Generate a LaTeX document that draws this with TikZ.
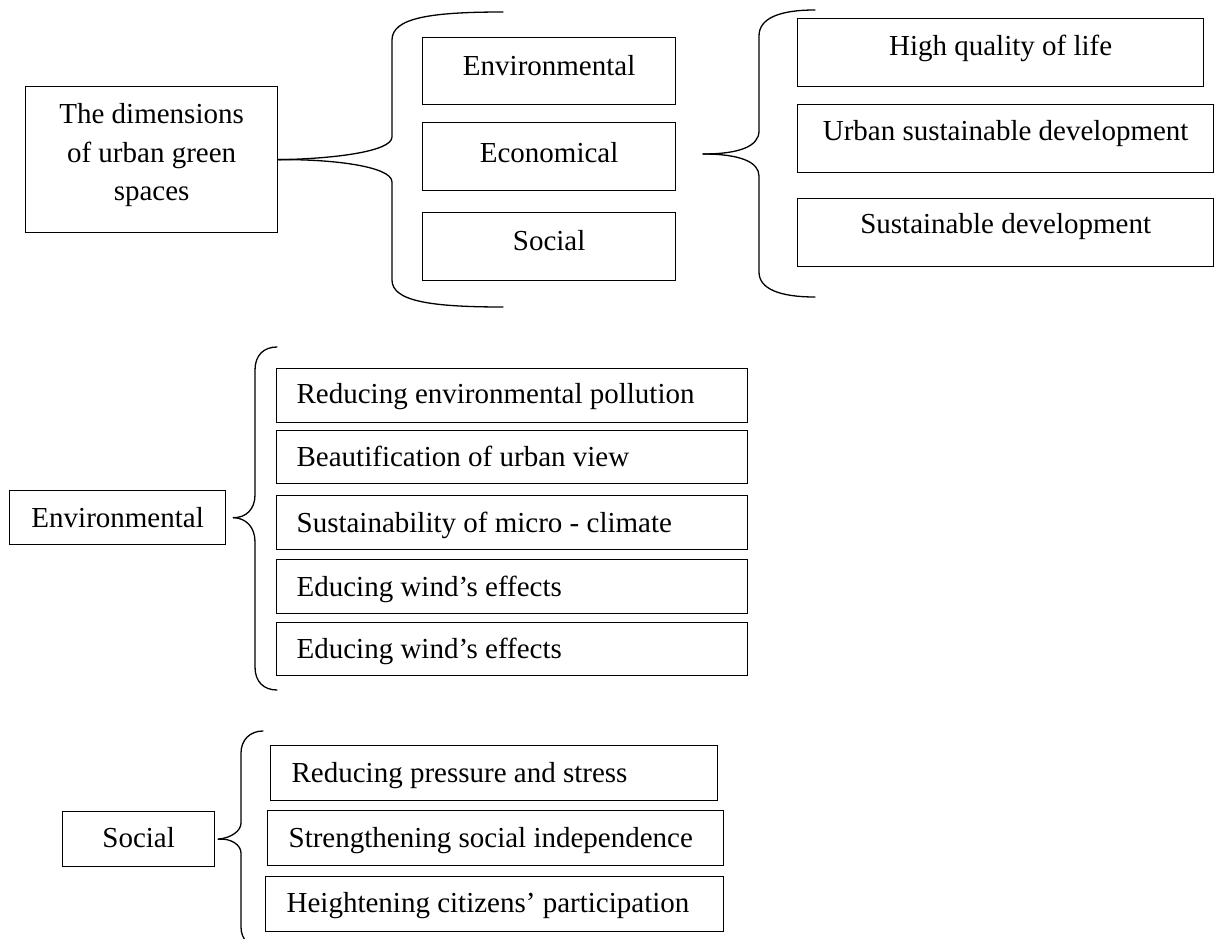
\documentclass[tikz,border=0pt]{standalone}
\usepackage{fontspec}
\setmainfont{Liberation Serif}
\begin{document}
\begin{tikzpicture}[x=1pt,y=-1pt,
  every node/.style={font=\fontsize{29pt}{38.5pt}\selectfont},
  cbox/.style={draw, line width=1.3pt, inner sep=0pt, anchor=north west},
  lbox/.style={cbox, align=flush left, inner xsep=#1},
  brace/.style={draw, line width=1.3pt, line cap=round, line join=round}]
\path[use as bounding box, clip] (0,0) rectangle (1216,939);

% ---------- overview: dimensions and outcomes ----------
\node[cbox, text width=252pt, align=flush center, text height=37pt, text depth=109pt] (main) at (25,86)
  {The dimensions\\of urban green\\spaces};

\node[cbox, minimum width=253pt, text height=38pt, text depth=29pt] (envA) at (422,37) {Environmental};
\node[cbox, minimum width=253pt, text height=39.5pt, text depth=28.5pt] (econA) at (422,122) {Economical};
\node[cbox, minimum width=253pt, text height=38pt, text depth=30pt] (socA) at (422,212) {Social};

\node[cbox, minimum width=406pt, text height=37pt, text depth=31pt] (r1) at (797,18) {High quality of life};
\node[cbox, minimum width=416pt, text height=36pt, text depth=32pt] (r2) at (797,104) {Urban sustainable development};
\node[cbox, minimum width=416pt, text height=35pt, text depth=33pt] (r3) at (797,198) {Sustainable development};

% brace from the main box to the three dimensions
\path[brace] (main.east) .. controls (330,159) and (392,152) .. (392,137) -- (392,40)
  .. controls (392,18) and (430,12) .. (503,12);
\path[brace] (main.east) .. controls (330,159) and (392,166) .. (392,182) -- (392,280)
  .. controls (392,301) and (430,307) .. (503,307);

% brace from the dimensions to the outcomes
\coordinate (tip2) at (703,154);
\path[brace] (tip2) .. controls (740,154) and (759,146) .. (759,131) -- (759,36)
  .. controls (759,18) and (780,10) .. (815,10);
\path[brace] (tip2) .. controls (740,154) and (759,162) .. (759,176) -- (759,272)
  .. controls (759,289) and (780,297) .. (815,297);

% ---------- environmental dimension ----------
\node[cbox, minimum width=216pt, text height=37pt, text depth=17pt] (envB) at (9,490) {Environmental};

\node[lbox=20pt, text width=431pt, text height=35pt, text depth=19pt] (e1) at (276,368) {Reducing environmental pollution};
\node[lbox=20pt, text width=431pt, text height=36pt, text depth=17pt] (e2) at (276,430) {Beautification of urban view};
\node[lbox=20pt, text width=431pt, text height=37pt, text depth=17pt] (e3) at (276,495) {Sustainability of micro - climate};
\node[lbox=20pt, text width=431pt, text height=37pt, text depth=17pt] (e4) at (276,559) {Educing wind’s effects};
\node[lbox=20pt, text width=431pt, text height=36pt, text depth=17pt] (e5) at (276,622) {Educing wind’s effects};

\coordinate (tip3) at ([xshift=7pt]envB.east);
\path[brace] (tip3) .. controls (246,518) and (255,509) .. (255,495) -- (255,370)
  .. controls (255,355) and (264,347) .. (277,347);
\path[brace] (tip3) .. controls (246,518) and (255,527) .. (255,542) -- (255,667)
  .. controls (255,682) and (264,690) .. (277,690);

% ---------- social dimension ----------
\node[cbox, minimum width=152pt, text height=36pt, text depth=19pt] (socB) at (62,811) {Social};

\node[lbox=21pt, text width=405pt, text height=37pt, text depth=18pt] (s1) at (270,745) {Reducing pressure and stress};
\node[lbox=21pt, text width=414pt, text height=37pt, text depth=18pt] (s2) at (267,810) {Strengthening social independence};
\node[lbox=21pt, text width=416pt, text height=36pt, text depth=19pt] (s3) at (265,876) {Heightening citizens’ participation};

\coordinate (tip4) at ([xshift=3pt]socB.east);
\path[brace] (tip4) .. controls (231,838) and (241,831) .. (241,823) -- (241,753)
  .. controls (241,740) and (250,731) .. (263,731);
\path[brace] (tip4) .. controls (231,838) and (241,845) .. (241,853) -- (241,927)
  .. controls (241,940) and (250,948) .. (263,948);
\end{tikzpicture}
\end{document}
